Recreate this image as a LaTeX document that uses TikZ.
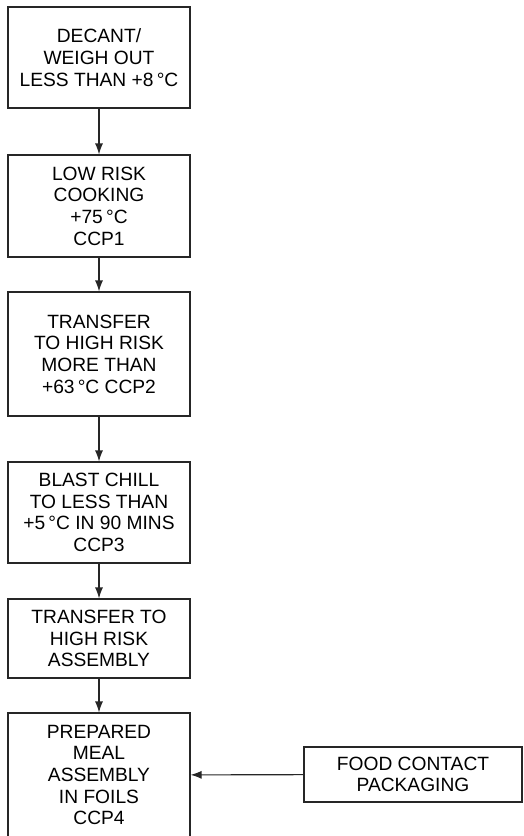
\documentclass[tikz,border=0pt]{standalone}
\usepackage{fontspec}
\setmainfont{Liberation Sans}
\usetikzlibrary{arrows.meta}
\begin{document}
\begin{tikzpicture}[x=1pt,y=1pt,
  stepbox/.style={draw=black!85, line width=1.1pt, minimum width=182pt, inner sep=0pt,
    align=center, font=\fontsize{19.2}{21.7}\selectfont},
  flow/.style={draw=black!85, line width=1.1pt, -{Latex[length=11pt,width=8pt]}}]
\useasboundingbox (0,0) rectangle (523,-836);
\node[stepbox, minimum height=101pt] (b1) at (99,-57.5) {DECANT/\\WEIGH OUT\\LESS THAN +8\,°C};
\node[stepbox, minimum height=102pt] (b2) at (99,-206) {LOW RISK\\COOKING\\+75\,°C\\CCP1};
\node[stepbox, minimum height=124pt] (b3) at (99,-354) {TRANSFER\\TO HIGH RISK\\MORE THAN\\+63\,°C CCP2};
\node[stepbox, minimum height=101pt] (b4) at (99,-512.5) {BLAST CHILL\\TO LESS THAN\\+5\,°C IN 90 MINS\\CCP3};
\node[stepbox, minimum height=79pt] (b5) at (99,-638.5) {TRANSFER TO\\HIGH RISK\\ASSEMBLY};
\node[stepbox, minimum height=124pt] (b6) at (99,-775) {PREPARED\\MEAL\\ASSEMBLY\\IN FOILS\\CCP4};
\node[stepbox, minimum width=218pt, minimum height=55pt] (pk) at (413,-774.5) {FOOD CONTACT\\PACKAGING};
\draw[flow] (b1) -- (b2);
\draw[flow] (b2) -- (b3);
\draw[flow] (b3) -- (b4);
\draw[flow] (b4) -- (b5);
\draw[flow] (b5) -- (b6);
\draw[flow] (pk) -- (b6);
\end{tikzpicture}
\end{document}
